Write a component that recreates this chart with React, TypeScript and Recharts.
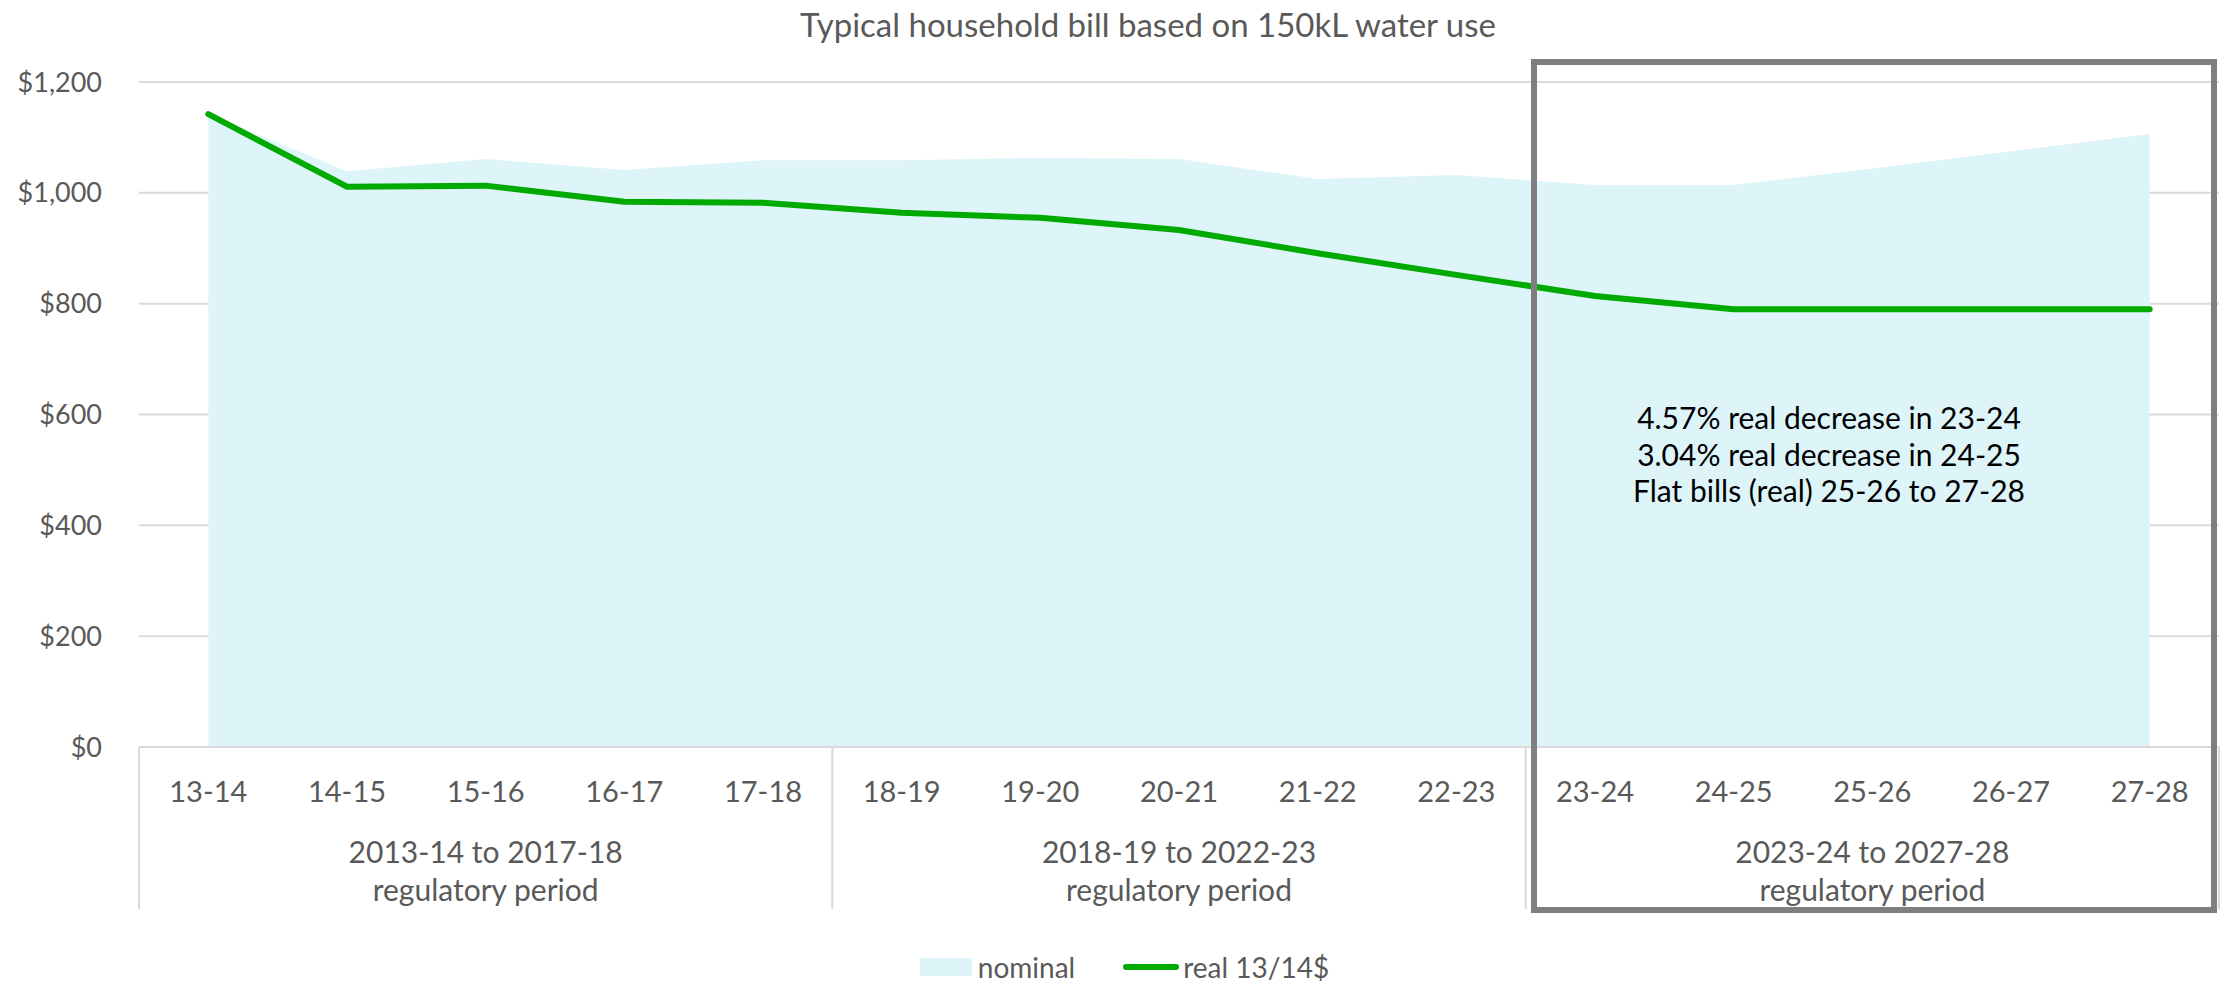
import React from "react";
import {
  ComposedChart,
  Area,
  Line,
  XAxis,
  YAxis,
  CartesianGrid,
  Legend,
} from "recharts";

// values
const categories = [
  "13-14", "14-15", "15-16", "16-17", "17-18",
  "18-19", "19-20", "20-21", "21-22", "22-23",
  "23-24", "24-25", "25-26", "26-27", "27-28",
];
const nominal = [1142, 1039, 1061, 1041, 1059, 1059, 1063, 1061, 1025, 1032, 1014, 1014, 1044, 1075, 1106];
const real = [1142, 1011, 1013, 984, 982, 964, 955, 933, 891, 852, 814, 790, 790, 790, 790];
const periods = [
  ["2013-14 to 2017-18", "regulatory period"],
  ["2018-19 to 2022-23", "regulatory period"],
  ["2023-24 to 2027-28", "regulatory period"],
];
const yTicks = [0, 200, 400, 600, 800, 1000, 1200];
const notes = [
  "4.57% real decrease in 23-24",
  "3.04% real decrease in 24-25",
  "Flat bills (real) 25-26 to 27-28",
];

const data = categories.map((c, i) => ({ cat: c, nominal: nominal[i], real: real[i] }));

const W = 2223;
const H = 981;
const MARGIN = { top: 82, right: 4, bottom: 0, left: 0 };
const Y_AXIS_W = 139;
const PLOT_W = W - MARGIN.left - MARGIN.right - Y_AXIS_W;
const PER_GROUP = 5;
const FONT = "Lato, 'Open Sans', sans-serif";
const GREY = "#595959";
const LINE_GREY = "#d9d9d9";
const FILL = "#ddf4f9";
const GREEN = "#00aa00";

function CategoryTick(props: any) {
  const { x, y, payload } = props;
  const i = payload.index;
  const half = PLOT_W / categories.length / 2;
  const parts: React.ReactNode[] = [];
  parts.push(
    <text key="t" x={x} y={y + 43} textAnchor="middle" dominantBaseline="central"
      fontSize={29} fill={GREY} fontFamily={FONT}>
      {payload.value}
    </text>
  );
  if (i % PER_GROUP === 0) {
    parts.push(<line key="s" x1={x - half} x2={x - half} y1={y} y2={y + 162} stroke={LINE_GREY} strokeWidth={2} />);
  }
  if (i === categories.length - 1) {
    parts.push(<line key="e" x1={x + half} x2={x + half} y1={y} y2={y + 162} stroke={LINE_GREY} strokeWidth={2} />);
  }
  if (i % PER_GROUP === 2) {
    const p = periods[Math.floor(i / PER_GROUP)];
    parts.push(
      <text key="g1" x={x} y={y + 104} textAnchor="middle" dominantBaseline="central"
        fontSize={30} fill={GREY} fontFamily={FONT}>{p[0]}</text>,
      <text key="g2" x={x} y={y + 142} textAnchor="middle" dominantBaseline="central"
        fontSize={30} fill={GREY} fontFamily={FONT}>{p[1]}</text>
    );
  }
  return <g>{parts}</g>;
}

function LegendContent() {
  return (
    <div style={{ height: 28, display: "flex", justifyContent: "center", alignItems: "center",
      paddingLeft: 30, fontFamily: FONT, fontSize: 28, color: GREY }}>
      <span style={{ display: "inline-block", width: 52, height: 18, background: FILL, marginRight: 6 }} />
      <span style={{ marginRight: 48 }}>nominal</span>
      <span style={{ display: "inline-block", width: 56, height: 6, borderRadius: 3, background: GREEN, marginRight: 4 }} />
      <span>real 13/14$</span>
    </div>
  );
}

export default function App() {
  return (
    <div style={{ position: "absolute", left: 0, top: 0, width: W, height: H, background: "#fff" }}>
      <div style={{ position: "absolute", left: 0, width: 2296, top: 4, textAlign: "center",
        fontFamily: FONT, fontSize: 33, color: GREY, lineHeight: "40px" }}>
        Typical household bill based on 150kL water use
      </div>
      <ComposedChart width={W} height={H} data={data} margin={MARGIN}>
        <CartesianGrid vertical={false} stroke={LINE_GREY} strokeWidth={2} />
        <XAxis dataKey="cat" scale="band" height={206} tickLine={false} tickSize={0} tickMargin={0}
          axisLine={{ stroke: LINE_GREY, strokeWidth: 2 }} tick={<CategoryTick />} interval={0} />
        <YAxis width={Y_AXIS_W} domain={[0, 1200]} ticks={yTicks} axisLine={false} tickLine={false}
          tickMargin={31} tickFormatter={(v: number) => `$${v.toLocaleString("en-US")}`}
          tick={{ fontSize: 27, fill: GREY, fontFamily: FONT }} />
        <Area dataKey="nominal" type="linear" fill={FILL} fillOpacity={1} stroke="none"
          isAnimationActive={false} />
        <Line dataKey="real" type="linear" stroke={GREEN} strokeWidth={6} dot={false}
          strokeLinecap="round" isAnimationActive={false} />
        <Legend verticalAlign="bottom" content={<LegendContent />} />
      </ComposedChart>
      <div style={{ position: "absolute", left: 1531, top: 59, width: 686, height: 854,
        border: "6px solid #7f7f7f", boxSizing: "border-box", pointerEvents: "none" }} />
      <div style={{ position: "absolute", left: 1529, width: 600, top: 399, textAlign: "center",
        fontFamily: FONT, fontSize: 30, color: "#000", lineHeight: "36.5px" }}>
        {notes.map((n) => <div key={n}>{n}</div>)}
      </div>
    </div>
  );
}
